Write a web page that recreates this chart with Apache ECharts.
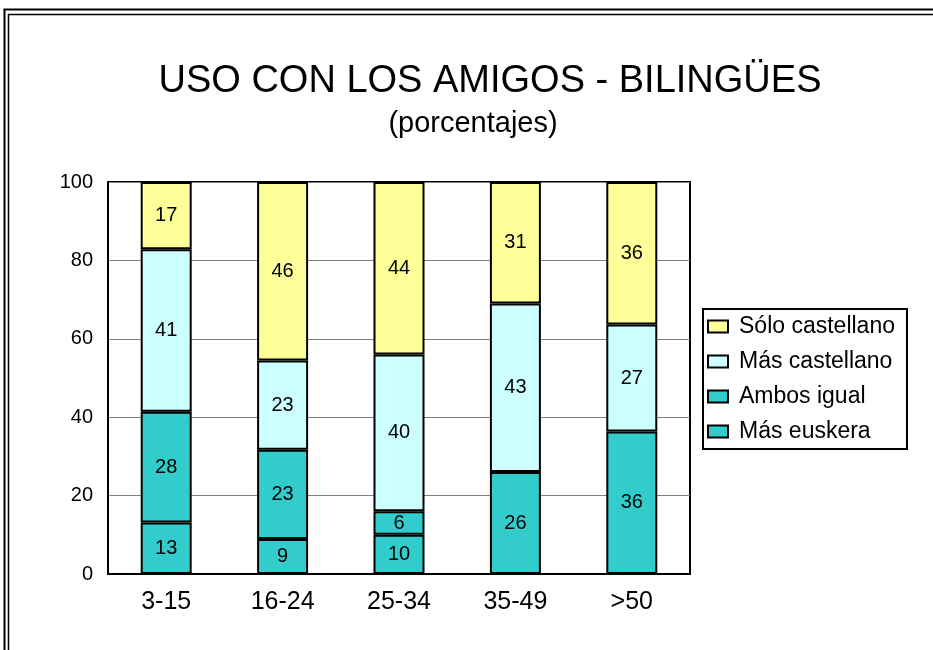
<!DOCTYPE html>
<html>
<head>
<meta charset="utf-8">
<script src="https://cdn.jsdelivr.net/npm/echarts@6/dist/echarts.min.js"></script>
<style>
  html, body { margin: 0; padding: 0; background: #fff; }
  #chart { width: 933px; height: 650px; }
</style>
</head>
<body>
<div id="chart"></div>
<script>
const categories = ['3-15', '16-24', '25-34', '35-49', '>50']
const masEuskera = [13, 9, 10, 26, 36]
const ambosIgual = [28, 23, 6, 0, 0]
const masCastellano = [41, 23, 40, 43, 27]
const soloCastellano = [17, 46, 44, 31, 36]
const yTicks = [0, 20, 40, 60, 80, 100]

const FONT = 'Liberation Sans, Arial, sans-serif'

// 100% stacked: each column is scaled to its own total
const totals = categories.map((c, i) =>
  masEuskera[i] + ambosIgual[i] + masCastellano[i] + soloCastellano[i])

let myChart = echarts.init(document.getElementById('chart'))

function barSeries(name, data, color) {
  return {
    name: name,
    type: 'bar',
    stack: 'total',
    barWidth: 51,
    data: data.map((v, i) => v === 0 ? null : { value: v / totals[i] * 100, raw: v }),
    itemStyle: {
      color: color,
      borderColor: '#000',
      borderWidth: 2
    },
    label: {
      show: true,
      position: 'inside',
      color: '#000',
      fontSize: 20,
      fontFamily: FONT,
      formatter: p => p.data.raw
    }
  }
}

let option = {
  animation: false,
  title: [
    {
      text: 'USO CON LOS AMIGOS - BILINGÜES',
      left: 485,
      textAlign: 'center',
      top: 58,
      textStyle: { fontSize: 38, fontWeight: 'normal', color: '#000', fontFamily: FONT }
    },
    {
      text: '(porcentajes)',
      left: 468,
      textAlign: 'center',
      top: 104,
      textStyle: { fontSize: 29, fontWeight: 'normal', color: '#000', fontFamily: FONT }
    }
  ],
  legend: {
    orient: 'vertical',
    left: 703,
    top: 309,
    padding: [6, 12, 6, 4],
    itemGap: 12,
    itemWidth: 20,
    itemHeight: 12,
    icon: 'rect',
    borderColor: '#000',
    borderWidth: 2,
    data: ['Sólo castellano', 'Más castellano', 'Ambos igual', 'Más euskera'],
    textStyle: {
      fontSize: 23,
      color: '#000',
      fontFamily: FONT,
      padding: [0, 0, 0, 6]
    }
  },
  grid: {
    left: 108,
    right: 243,
    top: 182,
    bottom: 76,
    show: true,
    borderColor: '#000',
    borderWidth: 2
  },
  xAxis: {
    type: 'category',
    data: categories,
    axisLine: { lineStyle: { color: '#000', width: 2 } },
    axisTick: { show: false },
    axisLabel: { fontSize: 25, color: '#000', margin: 16, fontFamily: FONT }
  },
  yAxis: {
    type: 'value',
    min: yTicks[0],
    max: yTicks[yTicks.length - 1],
    interval: 20,
    axisLine: { show: true, lineStyle: { color: '#000', width: 2 } },
    axisTick: { show: false },
    splitLine: { lineStyle: { color: '#808080', width: 1 } },
    axisLabel: { fontSize: 20, color: '#000', margin: 15, fontFamily: FONT }
  },
  graphic: [
    { type: 'rect', shape: { x: 4.5, y: 9.5, width: 1000, height: 1000 },
      style: { fill: null, stroke: '#000', lineWidth: 2 }, silent: true },
    { type: 'rect', shape: { x: 8.5, y: 14.5, width: 1000, height: 1000 },
      style: { fill: null, stroke: '#000', lineWidth: 1.5 }, silent: true }
  ],
  series: [
    barSeries('Más euskera', masEuskera, '#33CCCC'),
    barSeries('Ambos igual', ambosIgual, '#33CCCC'),
    barSeries('Más castellano', masCastellano, '#CCFFFF'),
    barSeries('Sólo castellano', soloCastellano, '#FFFF99')
  ]
}

myChart.setOption(option)
</script>
</body>
</html>
